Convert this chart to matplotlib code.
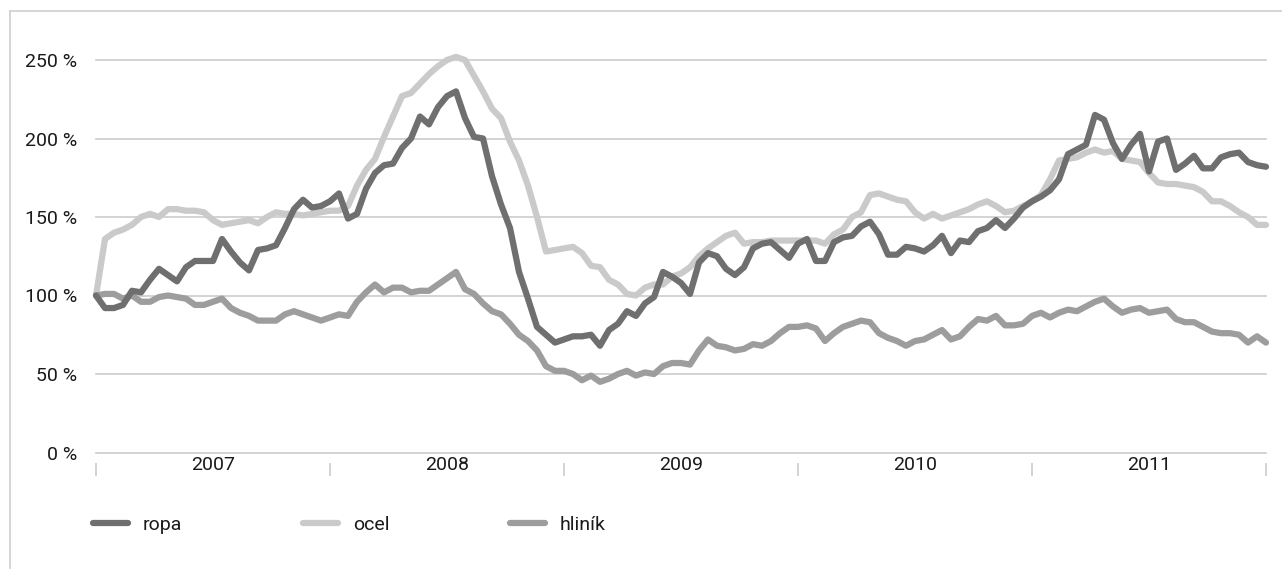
import matplotlib
matplotlib.use("Agg")
import matplotlib.pyplot as plt
from matplotlib.lines import Line2D

plt.rcParams["font.family"] = ["Roboto", "DejaVu Sans"]

# Commodity price indices, 2007 = 100 %, sampled every two weeks (26 points per year)
years = ["2007", "2008", "2009", "2010", "2011"]
points_per_year = 26

ropa = [100, 92, 92, 94, 103, 102, 110, 117, 113, 109, 118, 122, 122, 122, 136, 128,
        121, 116, 129, 130, 132, 143, 155, 161, 156, 157, 160, 165, 149, 152, 168, 178,
        183, 184, 194, 200, 214, 209, 220, 227, 230, 213, 201, 200, 176, 158, 143, 115,
        98, 80, 75, 70, 72, 74, 74, 75, 68, 78, 82, 90, 87, 95, 99, 115,
        112, 108, 101, 121, 127, 125, 117, 113, 118, 130, 133, 134, 129, 124, 133, 136,
        122, 122, 134, 137, 138, 144, 147, 139, 126, 126, 131, 130, 128, 132, 138, 127,
        135, 134, 141, 143, 148, 143, 149, 156, 160, 163, 167, 174, 190, 193, 196, 215,
        212, 197, 187, 196, 203, 179, 198, 200, 180, 184, 189, 181, 181, 188, 190, 191,
        185, 183, 182]

ocel = [100, 136, 140, 142, 145, 150, 152, 150, 155, 155, 154, 154, 153, 148, 145, 146,
        147, 148, 146, 150, 153, 152, 152, 151, 152, 153, 154, 154, 157, 170, 180, 187,
        201, 214, 227, 229, 235, 241, 246, 250, 252, 250, 240, 230, 219, 213, 198, 186,
        170, 150, 128, 129, 130, 131, 127, 119, 118, 110, 107, 101, 100, 105, 107, 107,
        112, 114, 118, 125, 130, 134, 138, 140, 133, 134, 134, 135, 135, 135, 135, 135,
        135, 133, 139, 142, 150, 153, 164, 165, 163, 161, 160, 153, 149, 152, 149, 151,
        153, 155, 158, 160, 157, 153, 154, 157, 160, 164, 174, 186, 187, 188, 191, 193,
        191, 192, 187, 186, 185, 178, 172, 171, 171, 170, 169, 166, 160, 160, 157, 153,
        150, 145, 145]

hlinik = [100, 101, 101, 98, 100, 96, 96, 99, 100, 99, 98, 94, 94, 96, 98, 92,
          89, 87, 84, 84, 84, 88, 90, 88, 86, 84, 86, 88, 87, 96, 102, 107,
          102, 105, 105, 102, 103, 103, 107, 111, 115, 104, 101, 95, 90, 88, 82, 75,
          71, 65, 55, 52, 52, 50, 46, 49, 45, 47, 50, 52, 49, 51, 50, 55,
          57, 57, 56, 65, 72, 68, 67, 65, 66, 69, 68, 71, 76, 80, 80, 81,
          79, 71, 76, 80, 82, 84, 83, 76, 73, 71, 68, 71, 72, 75, 78, 72,
          74, 80, 85, 84, 87, 81, 81, 82, 87, 89, 86, 89, 91, 90, 93, 96,
          98, 93, 89, 91, 92, 89, 90, 91, 85, 83, 83, 80, 77, 76, 76, 75,
          70, 74, 70]

series = [("ropa", ropa, "#6f6f6f"),
          ("ocel", ocel, "#c9cac9"),
          ("hliník", hlinik, "#9c9d9c")]
draw_order = {"ocel": 1, "hliník": 2, "ropa": 3}

W, H = 1282, 569
fig = plt.figure(figsize=(W / 100, H / 100), dpi=100)
ax = fig.add_axes([96 / W, 1 - 452.5 / H, 1170 / W, 392.5 / H])

t = list(range(len(ropa)))
handles = []
for name, values, color in series:
    ln, = ax.plot(t, values, color=color, lw=4.5, solid_joinstyle="round",
                  solid_capstyle="round", clip_on=False, zorder=draw_order[name],
                  label=name)
    handles.append(ln)

n_years = len(years)
ax.set_xlim(0, n_years * points_per_year)
ax.set_ylim(0, 250)

# y axis: percentage gridlines
yticks = [0, 50, 100, 150, 200, 250]
ax.set_yticks(yticks)
ax.set_yticklabels([f"{v} %" for v in yticks])
ax.yaxis.grid(True, color="#cccccc", lw=1.2)
for gl in ax.get_ygridlines():
    gl.set_clip_on(False)
ax.set_axisbelow(True)
ax.tick_params(axis="y", length=0, pad=13.5, labelsize=14, labelcolor="#1a1a1a")

# x axis: year separators with year names centred between them
ax.spines["bottom"].set_position(("outward", 7.2))
for s in ax.spines.values():
    s.set_visible(False)
bounds = [i * points_per_year for i in range(n_years + 1)]
mids = [(i + 0.5) * points_per_year for i in range(n_years)]
ax.set_xticks(bounds)
ax.set_xticklabels([""] * len(bounds))
ax.set_xticks(mids, minor=True)
ax.set_xticklabels(years, minor=True)
ax.tick_params(axis="x", which="major", length=9.4, width=1.1, color="#c8c8c8",
               direction="out")
ax.tick_params(axis="x", which="minor", length=0, pad=-4.5, labelsize=14,
               labelcolor="#1a1a1a")

# legend below the chart
leg = fig.legend(handles=handles, loc="center left",
                 bbox_to_anchor=(93 / W, 1 - 525 / H), ncol=3, frameon=False,
                 fontsize=14, handlelength=1.8, handletextpad=0.77,
                 columnspacing=6.2, borderpad=0, borderaxespad=0)
for txt in leg.get_texts():
    txt.set_color("#1a1a1a")

# frame lines along the top and left edges
fig.add_artist(Line2D([10 / W, 1], [1 - 11 / H] * 2, transform=fig.transFigure,
                      color="#d2d2d2", lw=1.3))
fig.add_artist(Line2D([10 / W] * 2, [0, 1 - 11 / H], transform=fig.transFigure,
                      color="#d2d2d2", lw=1.3))

fig.savefig("out.png", dpi=100)
